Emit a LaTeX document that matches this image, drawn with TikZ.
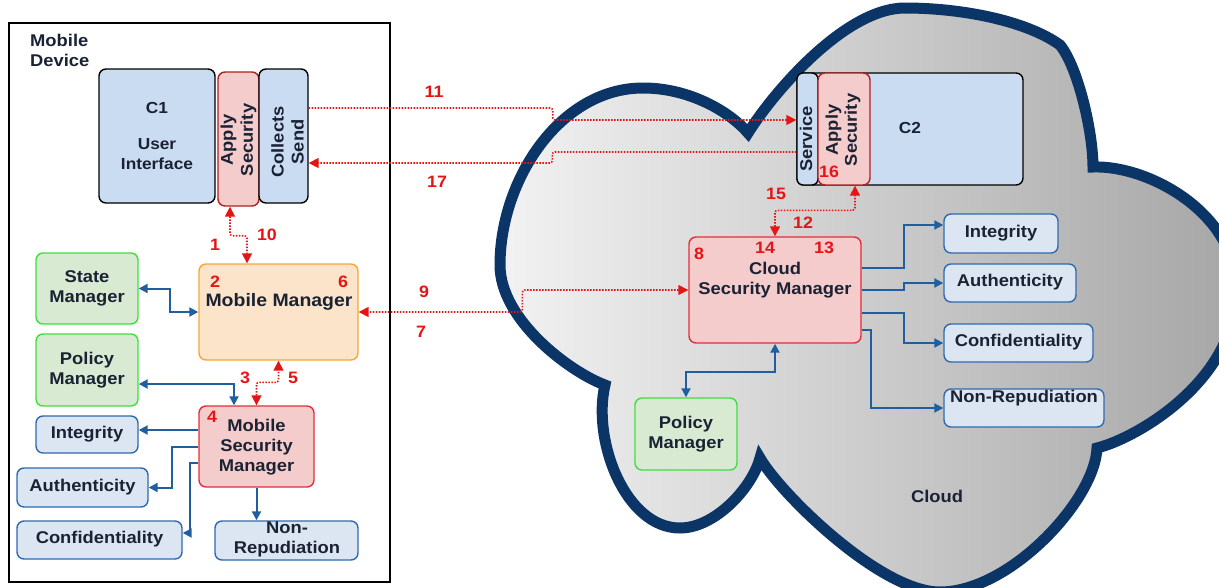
\documentclass[tikz,border=0pt]{standalone}
\usepackage{fontspec}
\setmainfont{Liberation Sans}[FakeStretch=1.08]
\usetikzlibrary{arrows.meta,calc}
\definecolor{navy}{HTML}{0B3567}
\definecolor{txtc}{HTML}{1A2233}
\definecolor{rd}{HTML}{E51515}
\definecolor{bl}{HTML}{1F5FA0}
\definecolor{bbord}{HTML}{2F6AAE}
\definecolor{bfill}{HTML}{DCE6F2}
\definecolor{gbord}{HTML}{3EE03E}
\definecolor{gfill}{HTML}{D8EAD2}
\definecolor{pbord}{HTML}{E0303A}
\definecolor{pdark}{HTML}{B02020}
\definecolor{pfill}{HTML}{F4CCCC}
\definecolor{obord}{HTML}{F4A935}
\definecolor{ofill}{HTML}{FCE4CA}
\definecolor{cfill}{HTML}{C9DCF1}
\definecolor{cloudL}{HTML}{F2F2F2}
\definecolor{cloudR}{HTML}{A6A6A6}
\begin{document}
\begin{tikzpicture}[x=1pt,y=-1pt,
  bx/.style={rounded corners=7pt, inner sep=0pt, line width=1.4pt},
  blubox/.style={bx, draw=bbord, fill=bfill},
  grnbox/.style={bx, draw=gbord, fill=gfill},
  pnkbox/.style={bx, draw=pbord, fill=pfill},
  orgbox/.style={bx, draw=obord, fill=ofill},
  cbox/.style={bx, draw=black, fill=cfill},
  lbl/.style={font=\bfseries\fontsize{17}{20}\selectfont, text=txtc, align=center, inner sep=0pt},
  num/.style={font=\bfseries\fontsize{16.5}{18}\selectfont, text=rd, inner sep=0pt},
  barr/.style={draw=bl, line width=2pt, -{Triangle[length=9pt,width=9pt]}},
  bdarr/.style={draw=bl, line width=2pt, {Triangle[length=9pt,width=9pt]}-{Triangle[length=9pt,width=9pt]}},
  rarr/.style={draw=rd, line width=1.6pt, dash pattern=on 1.5pt off 1.5pt, rounded corners=2.5pt, -{Triangle[length=10pt,width=10pt]}},
  rdarr/.style={draw=rd, line width=1.6pt, dash pattern=on 1.5pt off 1.5pt, rounded corners=2.5pt, {Triangle[length=10pt,width=10pt]}-{Triangle[length=10pt,width=10pt]}}
]
\useasboundingbox (0,0) rectangle (1219,587);
\clip (0,0) rectangle (1219,587);
\fill[white] (0,0) rectangle (1219,587);

% ---------- cloud ----------
\path[draw=navy, line width=11pt, left color=cloudL, right color=cloudR]
  (748,133) .. controls (773,93) and (845,8) .. (905,8)
  .. controls (960,8) and (1025,20) .. (1060,45)
  .. controls (1078,67) and (1093,132) .. (1093,167)
  .. controls (1150,165) and (1238,215) .. (1236,290)
  .. controls (1237,380) and (1137,438) .. (1097,448)
  .. controls (1095,500) and (1010,592) .. (940,592)
  .. controls (880,592) and (780,493) .. (760,458)
  .. controls (752,488) and (715,528) .. (680,528)
  .. controls (625,528) and (592,440) .. (605,385)
  .. controls (570,372) and (500,320) .. (500,265)
  .. controls (500,180) and (560,88) .. (643,88)
  .. controls (690,88) and (730,112) .. (748,133) -- cycle;

% ---------- mobile device ----------
\node[draw=black, line width=2.6pt, minimum width=381pt, minimum height=559pt, inner sep=0pt] (mobile) at (199.5,302.5) {};
\node[lbl, align=left, anchor=west] (mdl) at (30,50) {Mobile\\Device};

\node[cbox, minimum width=116pt, minimum height=134pt] (c1) at (157,136) {};
\node[lbl, font=\bfseries\fontsize{16}{20}\selectfont] (c1t) at (157,136) {C1\\[16pt]User\\Interface};
\node[bx, draw=pdark, fill=pfill, minimum width=41pt, minimum height=134pt] (aps1) at (238.5,139) {};
\node[cbox, minimum width=49pt, minimum height=134pt] (cs1) at (283.5,136) {};
\node[lbl, rotate=90] (aps1t) at (238.5,140) {Apply\\Security};
\node[lbl, rotate=90] (cs1t) at (287.5,142) {Collects\\Send};

\node[grnbox, minimum width=102pt, minimum height=71pt] (stL) at (87,288.5) {};
\node[lbl] (stLt) at (87,288) {State\\Manager};
\node[grnbox, minimum width=102pt, minimum height=72pt] (polL) at (87,370) {};
\node[lbl] (polLt) at (87,370) {Policy\\Manager};
\node[blubox, minimum width=102pt, minimum height=37pt] (intL) at (87,434.5) {};
\node[lbl] (intLt) at (87,434) {Integrity};
\node[blubox, minimum width=131pt, minimum height=39pt] (autL) at (82.5,487.5) {};
\node[lbl] (autLt) at (82.5,487) {Authenticity};
\node[blubox, minimum width=165pt, minimum height=38pt] (cnfL) at (99.5,540) {};
\node[lbl] (cnfLt) at (99.5,539) {Confidentiality};
\node[blubox, minimum width=143pt, minimum height=39pt] (nrL) at (286.5,540.5) {};
\node[lbl] (nrLt) at (287,539) {Non-\\Repudiation};

\node[orgbox, minimum width=159pt, minimum height=96pt] (mm) at (278.5,312) {};
\node[lbl, font=\bfseries\fontsize{18}{20}\selectfont] (mmt) at (279,302) {Mobile Manager};
\node[pnkbox, minimum width=115pt, minimum height=81pt] (msm) at (256.5,446.5) {};
\node[lbl] (msmt) at (256.5,447) {Mobile\\Security\\Manager};

% ---------- cloud contents ----------
\node[cbox, minimum width=226pt, minimum height=112pt] (c2) at (910,129) {};
\node[lbl, font=\bfseries\fontsize{16}{18}\selectfont] (c2t) at (910,128) {C2};
\node[cbox, rounded corners=6pt, minimum width=21pt, minimum height=112pt] (svc) at (807.5,129) {};
\node[bx, draw=pdark, fill=pfill, minimum width=52pt, minimum height=112pt] (aps2) at (844,129) {};
\node[lbl, rotate=90] (svct) at (806,139) {Service};
\node[lbl, rotate=90, font=\bfseries\fontsize{17}{19}\selectfont] (aps2t) at (843,130) {Apply\\Security};

\node[pnkbox, minimum width=172pt, minimum height=106pt] (csm) at (775,290) {};
\node[lbl] (csmt) at (775,280) {Cloud\\Security Manager};
\node[grnbox, minimum width=102pt, minimum height=72pt] (polR) at (686,434) {};
\node[lbl] (polRt) at (686,434) {Policy\\Manager};

\node[blubox, minimum width=114pt, minimum height=39pt] (intR) at (1001,233.5) {};
\node[lbl] (intRt) at (1001,233) {Integrity};
\node[blubox, minimum width=132pt, minimum height=38pt] (autR) at (1010,283) {};
\node[lbl] (autRt) at (1010,282) {Authenticity};
\node[blubox, minimum width=149pt, minimum height=38pt] (cnfR) at (1018.5,343) {};
\node[lbl] (cnfRt) at (1018.5,342) {Confidentiality};
\node[blubox, minimum width=160pt, minimum height=38pt] (nrR) at (1024,408) {};
\node[lbl] (nrRt) at (1024,398) {Non-Repudiation};
\node[lbl] (cloudt) at (937,496) {Cloud};

% ---------- blue connectors ----------
\draw[bdarr] (stL.east) -- ++(31,0) |- (mm.west);
\draw[bdarr] ($(polL.east)+(0,14)$) -| ($(msm.north)+(-22.5,0)$);
\draw[barr] ($(msm.west)+(0,-16.5)$) -- ($(intL.east)+(0,-4.5)$);
\draw[barr] ($(msm.west)+(0,0.5)$) -- ++(-26,0) |- (autL.east);
\draw[barr] ($(msm.west)+(0,16.5)$) -- ++(-8,0) |- ($(cnfL.east)+(0,-7)$);
\draw[barr] (msm.south) -- (msm.south |- nrL.north);

\draw[barr] ($(csm.east)+(0,-22)$) -- ++(42,0) |- ($(intR.west)+(0,-8.5)$);
\draw[barr] (csm.east) -- ++(42,0) |- (autR.west);
\draw[barr] ($(csm.east)+(0,23)$) -- ++(42,0) |- (cnfR.west);
\draw[barr] ($(csm.east)+(0,40)$) -- ++(9,0) |- (nrR.west);
\draw[bdarr] (csm.south) -- ++(0,28) -| (polR.north);

% ---------- red connectors ----------
\draw[rarr] ($(cs1.east)+(0,-28)$) -- ++(244,0) -- ++(0,12) -- ($(svc.west)+(0,-9)$);
\draw[rarr] ($(svc.west)+(0,23)$) -- ++(-244,0) -- ++(0,11) -- ($(cs1.east)+(0,27)$);
\draw[rdarr] (csm.west) -- ++(-166,0) -- ++(0,22) -- (mm.east);
\draw[rdarr] ($(aps1.south)+(-8.5,0)$) -- ++(0,29) -| ($(mm.north)+(-31.5,0)$);
\draw[rdarr] (msm.north) -- ++(0,-23) -| (mm.south);
\draw[rdarr] (csm.north) -- ++(0,-26) -| ($(aps2.south)+(11,0)$);

% ---------- numbers ----------
\node[num] (n1) at (215,245) {1};
\node[num] (n10) at (267,235) {10};
\node[num] (n2) at (215,282) {2};
\node[num] (n6) at (343,282) {6};
\node[num] (n3) at (245,378) {3};
\node[num] (n5) at (293,378) {5};
\node[num] (n4) at (212,417) {4};
\node[num] (n11) at (434,92) {11};
\node[num] (n17) at (437,182) {17};
\node[num] (n9) at (424,292) {9};
\node[num] (n7) at (421,332) {7};
\node[num] (n8) at (699,254) {8};
\node[num] (n14) at (765,248) {14};
\node[num] (n13) at (824,248) {13};
\node[num] (n15) at (776,194) {15};
\node[num] (n12) at (803,223) {12};
\node[num] (n16) at (829,172) {16};
\end{tikzpicture}
\end{document}
